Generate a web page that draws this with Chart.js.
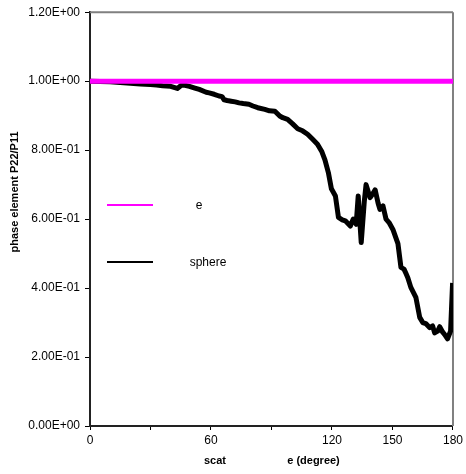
<!DOCTYPE html>
<html>
<head>
<meta charset="utf-8">
<script src="https://cdn.jsdelivr.net/npm/chart.js@4.4.1/dist/chart.umd.min.js"></script>
<style>
html,body{margin:0;padding:0;background:#fff;}
#wrap{width:466px;height:474px;position:relative;}
</style>
</head>
<body>
<div id="wrap"><canvas id="c" width="466" height="474"></canvas></div>
<script>
// ---- data ----
const sphereAngles = [0, 5, 10, 15, 20, 25, 30, 33, 36, 40, 43.3, 45.3, 47, 49.3, 52, 54.2, 57.6, 59.1, 61.6, 64.0, 65.5, 66.5, 68, 70.0, 72, 73.9, 76, 78.8, 80.8, 83.2, 86.7, 89, 91.7, 94.1, 95.6, 98, 100.5, 103, 105.4, 107.9, 110.3, 112.8, 115.0, 116.5, 118.2, 119.7, 121.7, 123.2, 125.1, 126.6, 129.1, 130.5, 132.0, 133.0, 134.5, 136.0, 136.9, 138.9, 140.4, 141.4, 142.9, 143.8, 145.3, 146.8, 148.3, 150.2, 152.7, 154.2, 155.7, 156.7, 157.6, 159.1, 161.6, 163.5, 165.0, 166.5, 168.5, 169.9, 170.9, 172.4, 173.4, 174.9, 175.9, 177.3, 178.8, 179.8];
const sphereValues = [1.000, 0.999, 0.998, 0.996, 0.994, 0.992, 0.990, 0.989, 0.987, 0.985, 0.979, 0.988, 0.988, 0.985, 0.980, 0.976, 0.968, 0.966, 0.962, 0.957, 0.955, 0.946, 0.944, 0.942, 0.940, 0.937, 0.935, 0.933, 0.928, 0.923, 0.918, 0.914, 0.913, 0.899, 0.894, 0.889, 0.876, 0.862, 0.856, 0.846, 0.832, 0.817, 0.795, 0.772, 0.735, 0.688, 0.667, 0.605, 0.598, 0.595, 0.580, 0.600, 0.585, 0.667, 0.532, 0.650, 0.700, 0.662, 0.675, 0.685, 0.645, 0.628, 0.638, 0.600, 0.590, 0.570, 0.529, 0.460, 0.455, 0.442, 0.430, 0.402, 0.373, 0.315, 0.300, 0.297, 0.285, 0.290, 0.270, 0.275, 0.288, 0.272, 0.265, 0.253, 0.275, 0.415];
const eAngles = [0, 180];
const eValues = [1.0, 1.0];
const seriesLabels = ["e", "sphere"];
const yTickValues = [0, 0.2, 0.4, 0.6, 0.8, 1.0, 1.2];
const xTickValues = [0, 30, 60, 90, 120, 150, 180];
const xTickLabels = ["0", "", "60", "", "120", "150", "180"];
const yTitle = "phase element P22/P11";
const xTitleParts = ["scat", "e (degree)"];

function toPts(xs, ys){ return xs.map((x,i)=>({x:x, y:ys[i]})); }
function fmtE(v){
  if (Math.abs(v) < 1e-12) return "0.00E+00";
  let e = Math.floor(Math.log10(Math.abs(v)) + 1e-9);
  let m = v / Math.pow(10, e);
  if (Math.abs(m) >= 9.995) { m /= 10; e += 1; }
  const sign = e < 0 ? "-" : "+";
  const ea = Math.abs(e);
  return m.toFixed(2) + "E" + sign + (ea < 10 ? "0" + ea : "" + ea);
}

const FONT = "'Liberation Sans', Arial, sans-serif";

const decor = {
  id: 'decor',
  beforeDatasetsDraw(chart){
    const {ctx, chartArea:a} = chart;
    ctx.save();
    ctx.strokeStyle = '#808080';
    ctx.lineWidth = 2;
    ctx.beginPath();
    ctx.moveTo(a.left, a.top); ctx.lineTo(a.right, a.top);
    ctx.moveTo(a.right, a.top); ctx.lineTo(a.right, a.bottom);
    ctx.stroke();
    ctx.restore();
  },
  afterDraw(chart){
    const {ctx} = chart;
    ctx.save();
    // legend
    const ds = chart.data.datasets;
    const rows = [{y:205, tx:199}, {y:262, tx:208}];
    ds.forEach((d,i)=>{
      const r = rows[i];
      ctx.strokeStyle = d.borderColor;
      ctx.lineWidth = 2;
      ctx.beginPath(); ctx.moveTo(107, r.y); ctx.lineTo(153, r.y); ctx.stroke();
      ctx.fillStyle = '#000';
      ctx.font = '12px ' + FONT;
      ctx.textAlign = 'center'; ctx.textBaseline = 'middle';
      ctx.fillText(d.label, r.tx, r.y + 1);
    });
    // axis titles
    ctx.font = 'bold 11px ' + FONT;
    ctx.fillStyle = '#000';
    ctx.textBaseline = 'middle';
    ctx.textAlign = 'center';
    ctx.fillText(xTitleParts[0], 215, 461);
    ctx.fillText(xTitleParts[1], 313.5, 461);
    ctx.translate(15, 192);
    ctx.rotate(-Math.PI/2);
    ctx.fillText(yTitle, 0, 0);
    ctx.restore();
  }
};

new Chart(document.getElementById('c'), {
  type: 'line',
  data: {
    datasets: [
      {label: seriesLabels[0], data: toPts(eAngles, eValues), borderColor: '#FF00FF', borderWidth: 5, pointRadius: 0, tension: 0, fill: false},
      {label: seriesLabels[1], data: toPts(sphereAngles, sphereValues), borderColor: '#000000', borderWidth: 5, pointRadius: 0, tension: 0, fill: false, borderJoinStyle: 'round'}
    ]
  },
  options: {
    responsive: false,
    animation: false,
    devicePixelRatio: 1,
    layout: {padding: {left: 0, right: 10, top: 11, bottom: 0}},
    plugins: {legend: {display: false}, tooltip: {enabled: false}},
    scales: {
      x: {
        type: 'linear', min: 0, max: 180,
        afterBuildTicks(s){ s.ticks = xTickValues.map(v=>({value:v})); },
        afterFit(s){ s.height = 48; },
        ticks: {
          autoSkip: false, maxRotation: 0, padding: 3,
          color: '#000', font: {family: FONT, size: 12},
          callback(v, i){ return xTickLabels[i]; }
        },
        grid: {display: true, drawOnChartArea: false, drawTicks: true, tickLength: 4, color: '#000', lineWidth: 1},
        border: {display: true, color: '#222', width: 2}
      },
      y: {
        type: 'linear', min: 0, max: 1.2,
        afterBuildTicks(s){ s.ticks = yTickValues.map(v=>({value:v})); },
        afterFit(s){ s.width = 90; },
        ticks: {
          autoSkip: false, padding: 5,
          color: '#000', font: {family: FONT, size: 12},
          callback(v){ return fmtE(v); }
        },
        grid: {display: true, drawOnChartArea: false, drawTicks: true, tickLength: 5, color: '#000', lineWidth: 1},
        border: {display: true, color: '#222', width: 2}
      }
    }
  },
  plugins: [decor]
});
</script>
</body>
</html>
